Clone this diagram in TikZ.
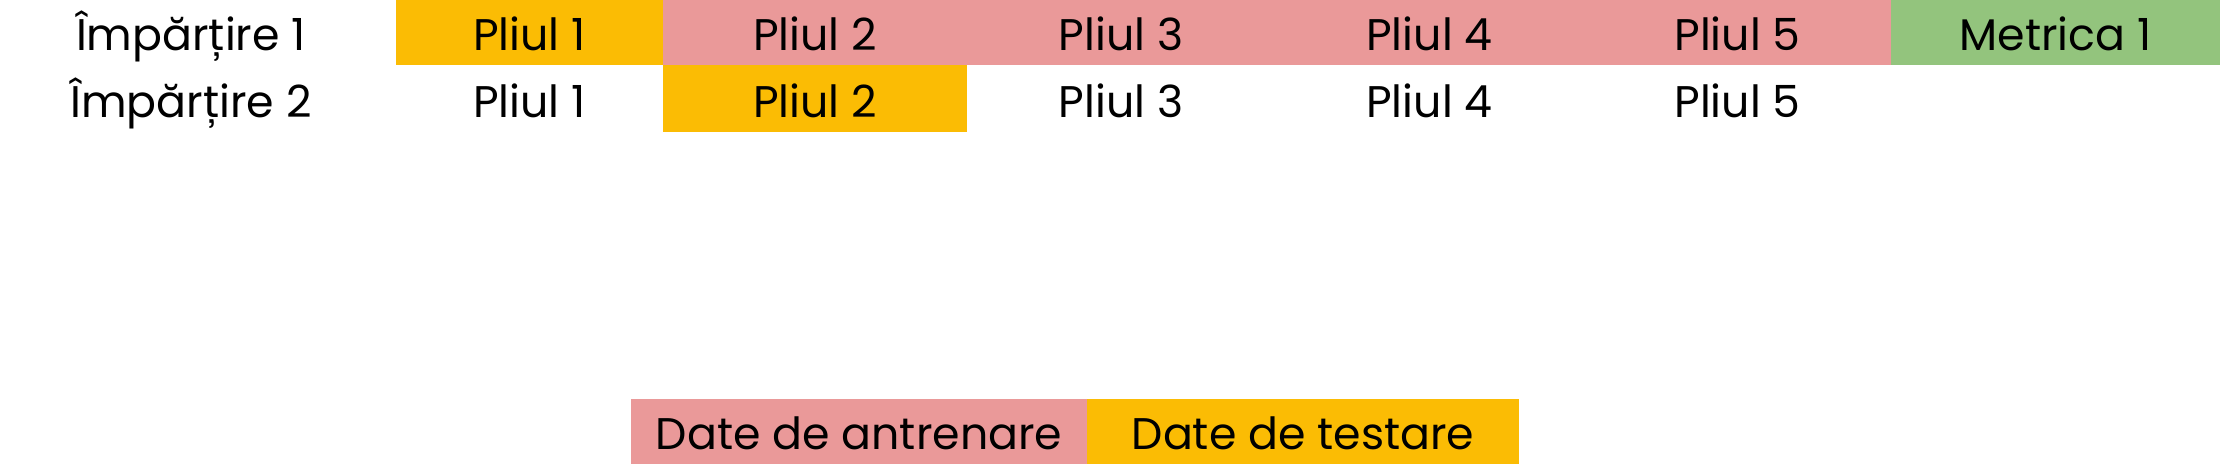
\documentclass[tikz,border=0pt]{standalone}
\usepackage{fontspec}
\setmainfont{Poppins}
\usepackage{tikz}
\definecolor{antrenare}{HTML}{EA9999}
\definecolor{testare}{HTML}{FBBC04}
\definecolor{metrica}{HTML}{93C47D}

\begin{document}
\begin{tikzpicture}[font=\fontsize{12.6}{14}\selectfont,inner sep=0pt,outer sep=0pt]
\tikzstyle{cell}=[rectangle,draw=none,text=black,text height=10.5pt,text depth=0pt]
\tikzstyle{row1}=[cell,minimum height=0.65cm]
\tikzstyle{row2}=[cell,minimum height=0.67cm,text height=11pt]

\useasboundingbox (0,0) rectangle (22.2,-4.64);

% prima impartire
\node[row1]                               (I1)  at (1.91,-0.325)   {Împărțire 1};
\node[row1,fill=testare,minimum width=2.67cm]   (A1)  at (5.295,-0.325)  {Pliul 1};
\node[row1,fill=antrenare,minimum width=3.04cm] (B1)  at (8.15,-0.325)   {Pliul 2};
\node[row1,fill=antrenare,minimum width=3.08cm] (C1)  at (11.21,-0.325)  {Pliul 3};
\node[row1,fill=antrenare,minimum width=3.09cm] (D1)  at (14.295,-0.325) {Pliul 4};
\node[row1,fill=antrenare,minimum width=3.07cm] (E1)  at (17.375,-0.325) {Pliul 5};
\node[row1,fill=metrica,minimum width=3.29cm]   (M1)  at (20.555,-0.325) {Metrica 1};

% a doua impartire
\node[row2]                               (I2)  at (1.91,-0.985)   {Împărțire 2};
\node[row2,minimum width=2.67cm]                (A2)  at (5.295,-0.985)  {Pliul 1};
\node[row2,fill=testare,minimum width=3.04cm]   (B2)  at (8.15,-0.985)   {Pliul 2};
\node[row2,minimum width=3.08cm]                (C2)  at (11.21,-0.985)  {Pliul 3};
\node[row2,minimum width=3.09cm]                (D2)  at (14.295,-0.985) {Pliul 4};
\node[row2,minimum width=3.07cm]                (E2)  at (17.375,-0.985) {Pliul 5};

% legenda
\node[row1,fill=antrenare,minimum width=4.56cm] (LA)  at (8.59,-4.315)   {Date de antrenare};
\node[row1,fill=testare,minimum width=4.32cm]   (LT)  at (13.03,-4.315)  {Date de testare};

\end{tikzpicture}
\end{document}
